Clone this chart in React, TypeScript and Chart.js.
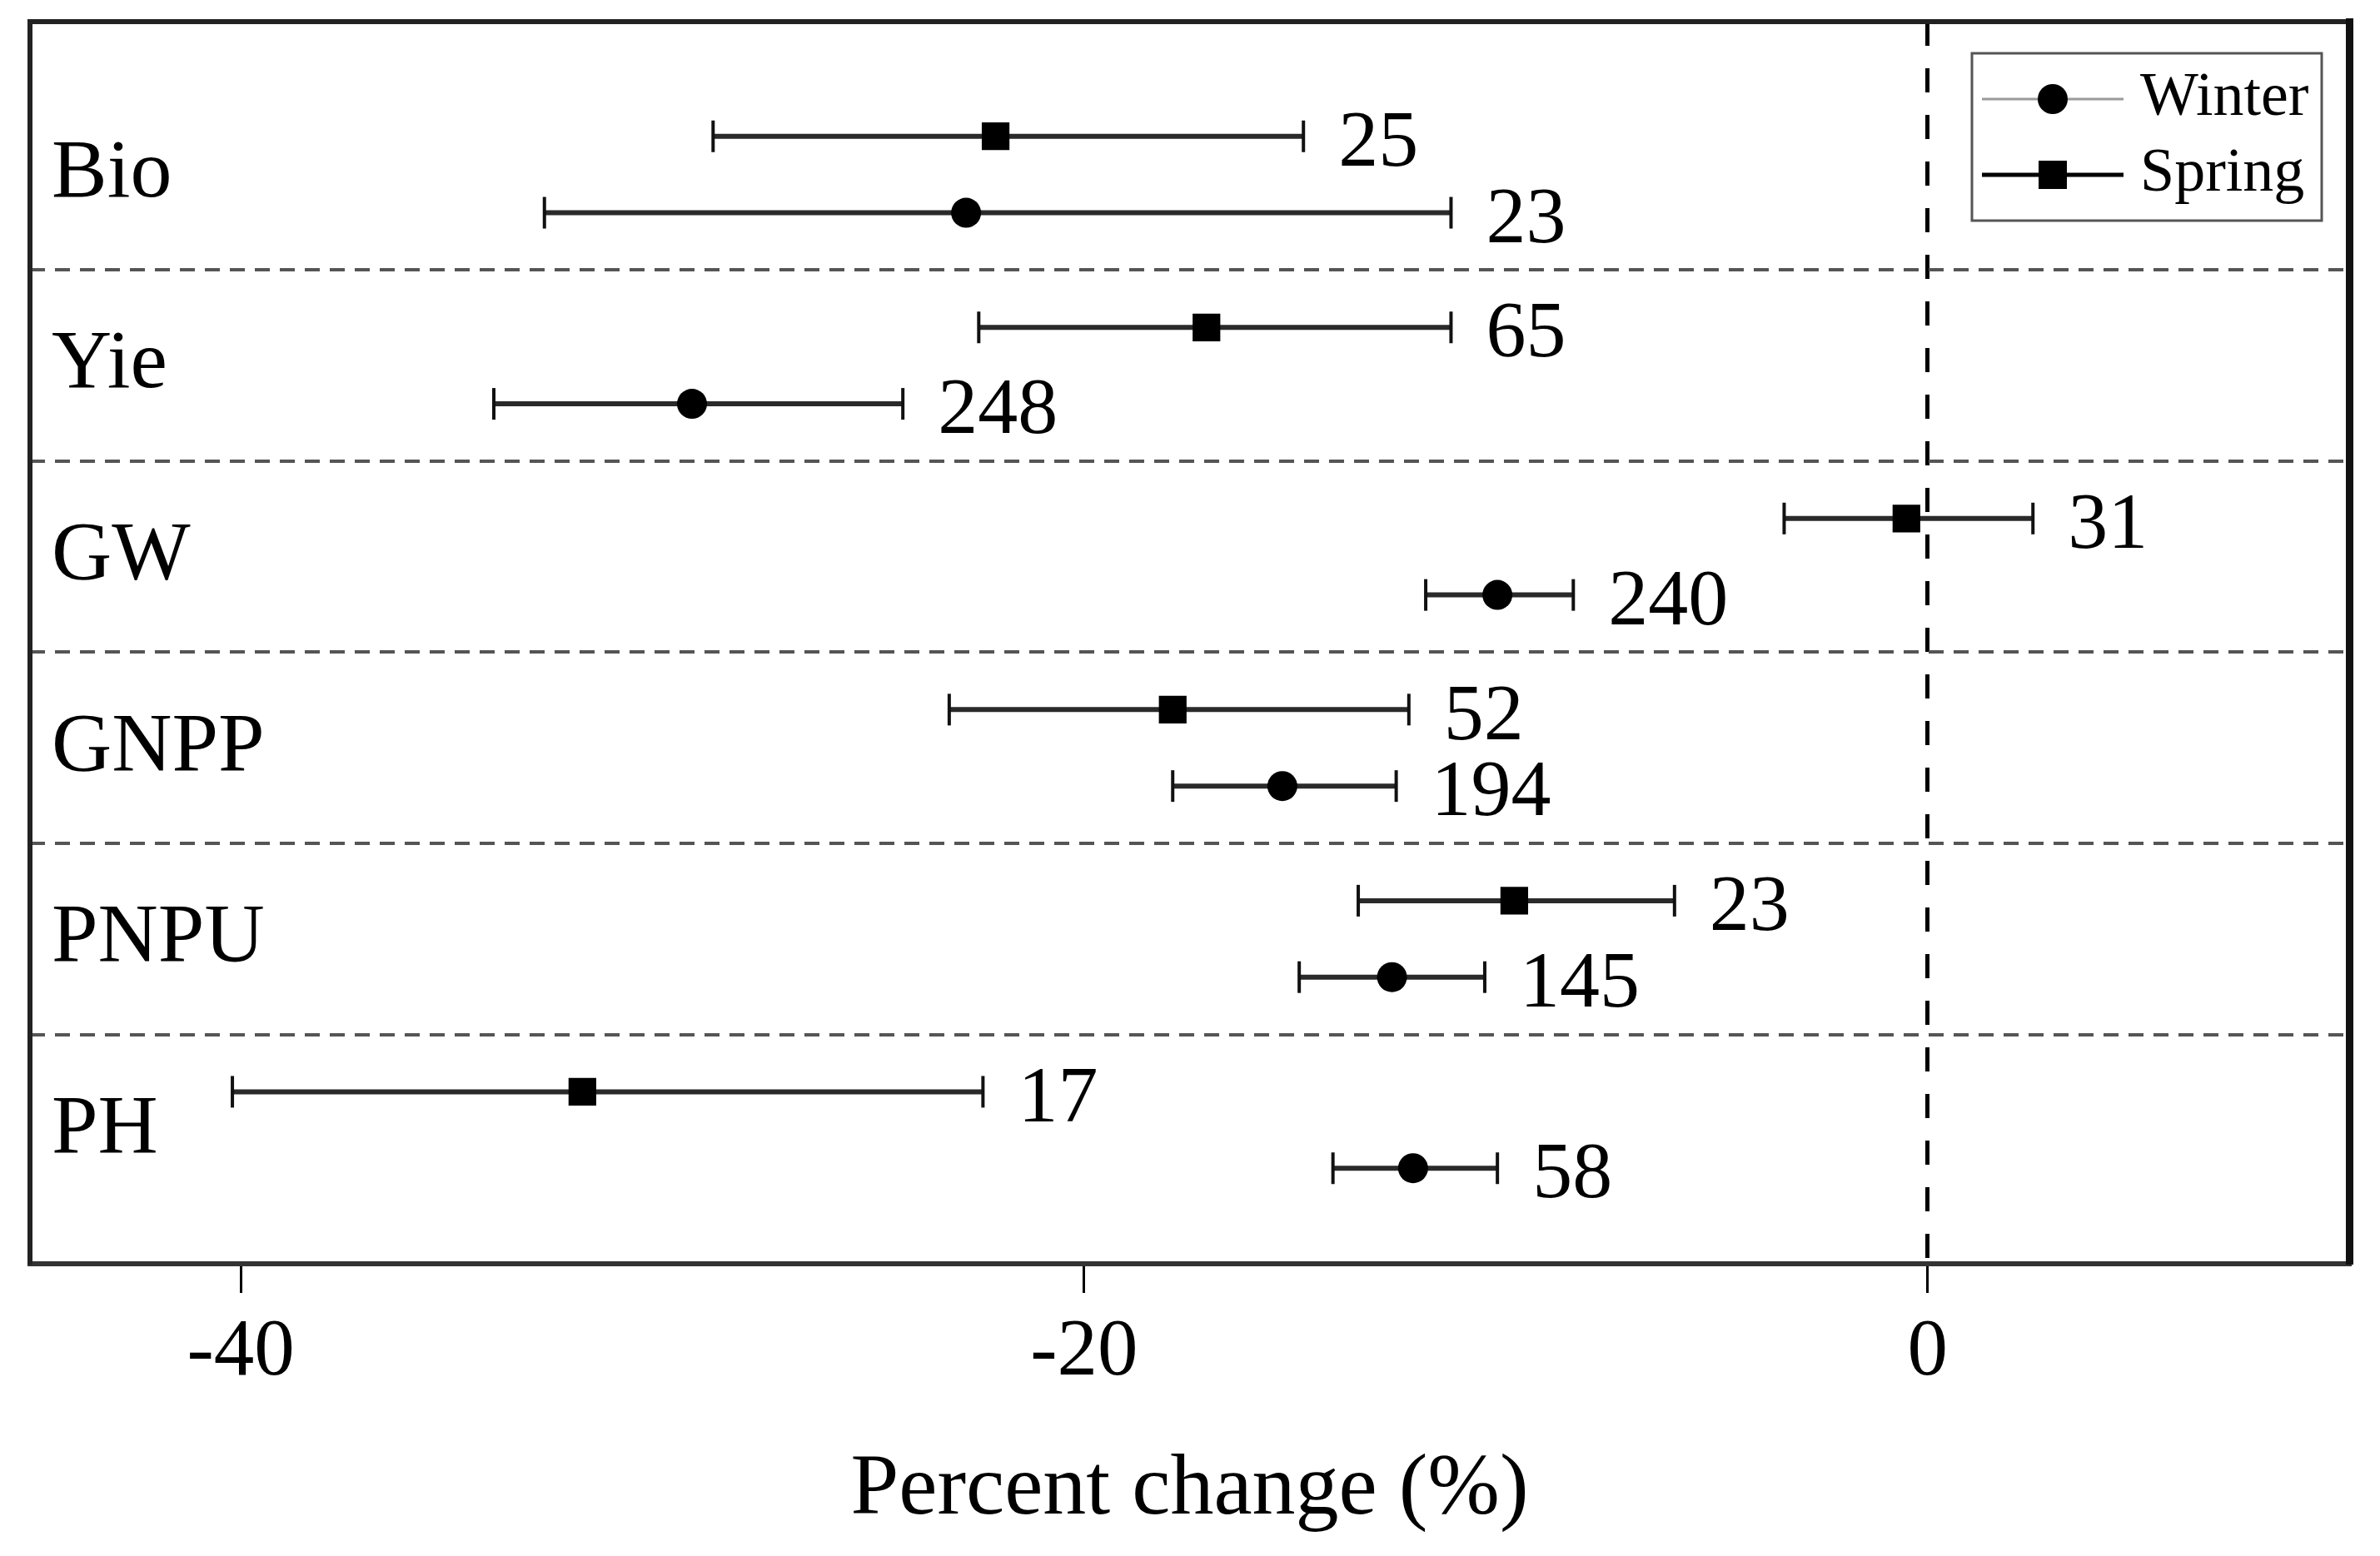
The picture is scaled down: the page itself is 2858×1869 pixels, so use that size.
import React, { useEffect, useRef } from 'react';
import { Chart, registerables } from 'chart.js';

Chart.register(...registerables);

// ---- data ----
const categories = ['Bio', 'Yie', 'GW', 'GNPP', 'PNPU', 'PH'];
const seriesNames = ['Winter', 'Spring'];

const winterMean = [-22.8, -29.3, -10.2, -15.3, -12.7, -12.2];
const winterLow = [-32.8, -34.0, -11.9, -17.9, -14.9, -14.1];
const winterHigh = [-11.3, -24.3, -8.4, -12.6, -10.5, -10.2];
const winterN = [23, 248, 240, 194, 145, 58];

const springMean = [-22.1, -17.1, -0.5, -17.9, -9.8, -31.9];
const springLow = [-28.8, -22.5, -3.4, -23.2, -13.5, -40.2];
const springHigh = [-14.8, -11.3, 2.5, -12.3, -6.0, -22.4];
const springN = [25, 65, 31, 52, 23, 17];

const xTickValues = [-40, -20, 0];
const xTitle = 'Percent change (%)';

const FONT = '"Liberation Serif", "Times New Roman", Times, serif';

export default function App() {
  const ref = useRef<HTMLCanvasElement | null>(null);

  useEffect(() => {
    if (!ref.current) return;
    const n = categories.length;
    const rowY = categories.map((_, i) => n - i);
    const springY = rowY.map((y) => y + 0.2);
    const winterY = rowY.map((y) => y - 0.2);
    const separators = rowY.slice(1).map((y) => y + 0.5);

    const barDataset = (low: number, high: number, y: number) => ({
      type: 'line',
      label: '_bar',
      data: [
        { x: low, y },
        { x: high, y },
      ],
      borderColor: '#2a2a2a',
      borderWidth: 6,
      pointStyle: 'line',
      pointRotation: 90,
      pointRadius: 19,
      pointHoverRadius: 19,
      pointBorderWidth: 4,
      pointBorderColor: '#111',
      pointBackgroundColor: '#111',
      fill: false,
      showLine: true,
      order: 1,
      xAxisID: 'x',
      yAxisID: 'y',
    });

    const datasets: any[] = [
      {
        type: 'line',
        label: seriesNames[0],
        data: winterMean.map((v, i) => ({ x: v, y: winterY[i] })),
        showLine: false,
        pointStyle: 'circle',
        pointRadius: 18,
        pointHoverRadius: 18,
        pointBackgroundColor: '#000',
        pointBorderColor: '#000',
        pointBorderWidth: 0,
        order: 0,
        xAxisID: 'x',
        yAxisID: 'y',
      },
      {
        type: 'line',
        label: seriesNames[1],
        data: springMean.map((v, i) => ({ x: v, y: springY[i] })),
        showLine: false,
        pointStyle: 'rect',
        pointRadius: 23.5,
        pointHoverRadius: 23.5,
        pointBackgroundColor: '#000',
        pointBorderColor: '#000',
        pointBorderWidth: 0,
        order: 0,
        xAxisID: 'x',
        yAxisID: 'y',
      },
    ];
    categories.forEach((_, i) => {
      datasets.push(barDataset(springLow[i], springHigh[i], springY[i]));
      datasets.push(barDataset(winterLow[i], winterHigh[i], winterY[i]));
    });

    const countLabels = {
      id: 'countLabels',
      afterDatasetsDraw(chart: any) {
        const { ctx } = chart;
        const xs = chart.scales.x;
        const ys = chart.scales.y;
        ctx.save();
        ctx.font = `96px ${FONT}`;
        ctx.fillStyle = '#000';
        ctx.textAlign = 'left';
        ctx.textBaseline = 'middle';
        categories.forEach((_, i) => {
          ctx.fillText(String(springN[i]), xs.getPixelForValue(springHigh[i]) + 42, ys.getPixelForValue(springY[i]) + 10);
          ctx.fillText(String(winterN[i]), xs.getPixelForValue(winterHigh[i]) + 42, ys.getPixelForValue(winterY[i]) + 10);
        });
        ctx.restore();
      },
    };

    const seasonLegend = {
      id: 'seasonLegend',
      afterDraw(chart: any) {
        const { ctx, chartArea: ca } = chart;
        const w = 420;
        const h = 201;
        const left = ca.right - 33 - w;
        const top = ca.top + 38;
        ctx.save();
        ctx.fillStyle = '#fff';
        ctx.fillRect(left, top, w, h);
        ctx.strokeStyle = '#555';
        ctx.lineWidth = 3;
        ctx.strokeRect(left, top, w, h);
        const rows = [
          { name: seriesNames[0], y: top + 55, color: '#9a9a9a', lw: 3, style: 'circle' },
          { name: seriesNames[1], y: top + 146, color: '#000', lw: 5, style: 'rect' },
        ];
        const mx = left + 97;
        rows.forEach((r) => {
          ctx.strokeStyle = r.color;
          ctx.lineWidth = r.lw;
          ctx.beginPath();
          ctx.moveTo(left + 12, r.y);
          ctx.lineTo(left + 182, r.y);
          ctx.stroke();
          ctx.fillStyle = '#000';
          ctx.beginPath();
          if (r.style === 'circle') {
            ctx.arc(mx, r.y, 18, 0, Math.PI * 2);
          } else {
            ctx.rect(mx - 17, r.y - 17, 34, 34);
          }
          ctx.fill();
          ctx.font = `74px ${FONT}`;
          ctx.textAlign = 'left';
          ctx.textBaseline = 'middle';
          ctx.fillText(r.name, left + 202, r.y);
        });
        ctx.restore();
      },
    };

    const zeroVertical = (s: any) => {
      s.width = 0;
      s.paddingTop = 0;
      s.paddingBottom = 0;
    };

    const chart = new Chart(ref.current, {
      type: 'line',
      data: { datasets },
      plugins: [countLabels, seasonLegend],
      options: {
        animation: false,
        responsive: true,
        maintainAspectRatio: false,
        events: [],
        layout: { padding: { left: 36, right: 37, top: 26, bottom: 0 } },
        plugins: {
          legend: { display: false },
          tooltip: { enabled: false },
          title: { display: false },
        },
        scales: {
          x: {
            type: 'linear',
            position: 'bottom',
            min: -45,
            max: 10,
            afterBuildTicks: (s: any) => {
              s.ticks = xTickValues.map((v) => ({ value: v }));
            },
            afterFit: (s: any) => {
              s.height = 351;
              s.paddingLeft = 0;
              s.paddingRight = 0;
            },
            ticks: {
              color: '#000',
              padding: 14,
              font: { family: FONT, size: 97 },
              callback: (v: any) => String(v),
            },
            grid: {
              display: true,
              drawOnChartArea: true,
              color: (c: any) => (c.tick && c.tick.value === 0 ? '#000' : 'rgba(0,0,0,0)'),
              lineWidth: 5,
              drawTicks: true,
              tickLength: 35,
              tickColor: '#000',
              tickWidth: 3,
            },
            border: { display: true, color: '#333', width: 6, dash: [29, 27] },
            title: {
              display: true,
              text: xTitle,
              color: '#000',
              font: { family: FONT, size: 104 },
              padding: { top: 0, bottom: 16 },
            },
          },
          xTop: {
            type: 'linear',
            position: 'top',
            afterFit: (s: any) => {
              s.height = 0;
              s.paddingLeft = 0;
              s.paddingRight = 0;
            },
            ticks: { display: false },
            grid: { display: false, drawTicks: false },
            border: { display: true, color: '#222', width: 6 },
          },
          y: {
            type: 'linear',
            position: 'left',
            min: 0.3,
            max: 6.8,
            afterBuildTicks: (s: any) => {
              s.ticks = rowY.map((v) => ({ value: v }));
            },
            afterFit: zeroVertical,
            ticks: {
              mirror: true,
              padding: 26,
              color: '#000',
              font: { family: FONT, size: 100 },
              callback: (v: any) => categories[n - Math.round(Number(v))],
            },
            grid: { display: false, drawTicks: false },
            border: { display: true, color: '#222', width: 6 },
          },
          ySep: {
            type: 'linear',
            position: 'left',
            min: 0.3,
            max: 6.8,
            afterBuildTicks: (s: any) => {
              s.ticks = separators.map((v) => ({ value: v }));
            },
            afterFit: zeroVertical,
            ticks: { display: false },
            grid: { display: true, color: '#555', lineWidth: 4, drawTicks: false },
            border: { display: false, dash: [18, 12] },
          },
          yRight: {
            type: 'linear',
            position: 'right',
            afterFit: zeroVertical,
            ticks: { display: false },
            grid: { display: false, drawTicks: false },
            border: { display: true, color: '#111', width: 9 },
          },
        },
      } as any,
    } as any);

    return () => {
      chart.destroy();
    };
  }, []);

  return (
    <div style={{ position: 'fixed', left: 0, top: 0, width: 2858, height: 1869, background: '#fff' }}>
      <canvas ref={ref} />
    </div>
  );
}
